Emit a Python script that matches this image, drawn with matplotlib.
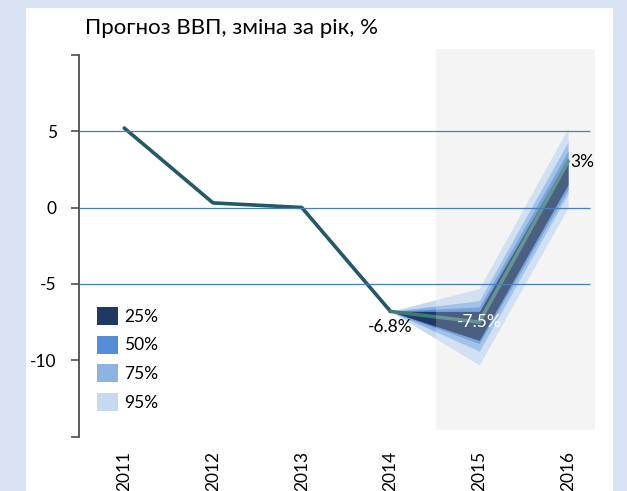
import matplotlib
matplotlib.use("Agg")
import matplotlib.pyplot as plt
from matplotlib.patches import Rectangle, Patch

plt.rcParams['font.family'] = ['Lato', 'DejaVu Sans']

years = [2011, 2012, 2013, 2014, 2015, 2016]
gdp = [5.2, 0.3, 0.0, -6.8, -7.5, 3.0]

fan_years = [2014, 2015, 2016]
fan_95_lo = [-6.8, -10.3, 0.0]
fan_95_hi = [-6.8, -5.3, 5.2]
fan_75_lo = [-6.8, -9.4, 0.9]
fan_75_hi = [-6.8, -6.1, 4.3]
fan_50_lo = [-6.8, -8.9, 1.2]
fan_50_hi = [-6.8, -6.5, 3.7]
fan_25_lo = [-6.8, -8.7, 1.5]
fan_25_hi = [-6.8, -6.8, 3.25]

legend_labels = ["25%", "50%", "75%", "95%"]
fan_colors = ["#1f3864", "#558ed5", "#8db3e2", "#c6d9f0"]

yticks = [10, 5, 0, -5, -10, -15]
ytick_labels = ["", "5", "0", "-5", "-10", ""]

fig = plt.figure(figsize=(6.27, 4.91), dpi=100)
fig.patch.set_facecolor("#dae3f3")
fig.add_artist(Rectangle((26 / 627, 0), (613 - 26) / 627, 1 - 8 / 491,
                         transform=fig.transFigure, facecolor="white",
                         edgecolor="none", zorder=0))

ax = fig.add_axes([79 / 627, 1 - 436.7 / 491, 521 / 627, 382 / 491])
ax.set_facecolor("none")
ax.set_xlim(2010.49, 2016.36)
ax.set_ylim(-15, 10)

# forecast area
ax.add_patch(Rectangle((2014.51, -14.56), 1.79, 24.93, facecolor="#f2f2f2",
                       edgecolor="none", zorder=0, clip_on=False))

ax.fill_between(fan_years, fan_95_lo, fan_95_hi, color=fan_colors[3], lw=0, zorder=1)
ax.fill_between(fan_years, fan_75_lo, fan_75_hi, color=fan_colors[2], lw=0, zorder=1.1)
ax.fill_between(fan_years, fan_50_lo, fan_50_hi, color=fan_colors[1], lw=0, zorder=1.2)
ax.fill_between(fan_years, fan_25_lo, fan_25_hi, color=fan_colors[0], lw=0, zorder=1.3)

ax.plot(years[:4], gdp[:4], color="#215967", lw=2.6, zorder=2, solid_capstyle="round")
ax.plot(years[3:], gdp[3:], color="#3e7a7a", lw=2.6, zorder=2)

# lighten everything inside the forecast area
ax.add_patch(Rectangle((2014.51, -14.56), 1.79, 24.93, facecolor="white",
                       alpha=0.2, edgecolor="none", zorder=2.5, clip_on=False))

ax.hlines([5, 0, -5], 2010.49, 2016.25, color="#4a7ebb", lw=0.9, zorder=3)

ax.text(2014, gdp[3] - 1.0, "-6.8%", ha="center", va="center", fontsize=12.5, zorder=4)
ax.text(2015, gdp[4], "-7.5%", ha="center", va="center", fontsize=12.5,
        color="white", zorder=4)
ax.text(2016.02, gdp[5], "3%", ha="left", va="center", fontsize=12.5, zorder=4)

for s in ["top", "right", "bottom"]:
    ax.spines[s].set_visible(False)
ax.spines["left"].set_color("#404040")
ax.spines["left"].set_linewidth(1.2)
ax.set_yticks(yticks)
ax.set_yticklabels(ytick_labels, fontsize=12.5)
ax.tick_params(axis="y", length=6, width=1.1, color="#404040", pad=10)
ax.set_xticks(years)
ax.set_xticklabels([str(y) for y in years], rotation=90, fontsize=12.5)
ax.tick_params(axis="x", length=0, pad=10)

handles = [Patch(facecolor=c, edgecolor="none") for c in fan_colors]
ax.legend(handles, legend_labels, loc="upper left", bbox_to_anchor=(0.004, 0.38),
          frameon=False, fontsize=12.5, handlelength=1.2, handleheight=1.2,
          labelspacing=0.62, handletextpad=0.4)

fig.text(85 / 627, 1 - 28 / 491, "Прогноз ВВП, зміна за рік, %", fontsize=16,
         ha="left", va="center")

fig.savefig("out.png", dpi=100, facecolor=fig.get_facecolor())
